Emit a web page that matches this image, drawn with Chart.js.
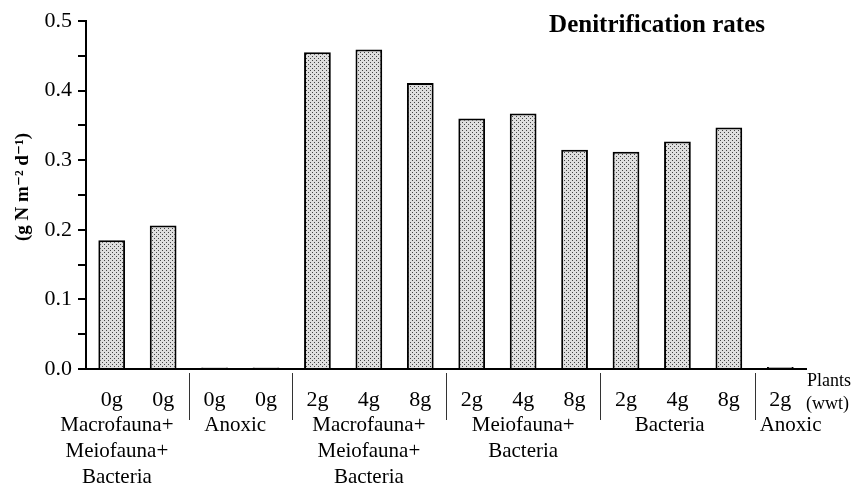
<!DOCTYPE html>
<html>
<head>
<meta charset="utf-8">
<script src="https://cdn.jsdelivr.net/npm/chart.js@4.4.0/dist/chart.umd.min.js"></script>
<style>
  body { margin: 0; background: #fff; }
</style>
</head>
<body>
<canvas id="denitChart" width="854" height="488"></canvas>
<script>
// data
var plantLabels = ['0g', '0g', '0g', '0g', '2g', '4g', '8g', '2g', '4g', '8g', '2g', '4g', '8g', '2g'];
var rates = [0.185, 0.206, 0.002, 0.002, 0.455, 0.459, 0.411, 0.360, 0.367, 0.315, 0.312, 0.327, 0.347, 0.003];
var groupNames = [
  ['Macrofauna+', 'Meiofauna+', 'Bacteria'],
  ['Anoxic'],
  ['Macrofauna+', 'Meiofauna+', 'Bacteria'],
  ['Meiofauna+', 'Bacteria'],
  ['Bacteria'],
  ['Anoxic']
];
var groupStart = [0, 2, 4, 7, 10, 13];
var groupEnd = [1, 3, 6, 9, 12, 13];
// where each group caption sits, as a category index
var groupAnchor = [0.1, 2.4, 5, 8, 10.85, 13.2];

var serif = '"Liberation Serif", "DejaVu Serif", serif';

// stipple fill
function makeStipple() {
  var c = document.createElement('canvas');
  c.width = 4; c.height = 4;
  var g = c.getContext('2d');
  g.fillStyle = '#dedede';
  g.fillRect(0, 0, 4, 4);
  g.fillStyle = '#444';
  g.fillRect(0, 0, 1, 1);
  g.fillRect(2, 2, 1, 1);
  return g.createPattern(c, 'repeat');
}

var extras = {
  id: 'extras',
  afterDraw: function(chart) {
    var ctx = chart.ctx;
    var x = chart.scales.x;
    var y0 = chart.chartArea.bottom;
    ctx.save();

    // group separators
    ctx.strokeStyle = '#333';
    ctx.lineWidth = 1;
    for (var i = 0; i < groupEnd.length - 1; i++) {
      var sx = Math.round((x.getPixelForValue(groupEnd[i]) + x.getPixelForValue(groupStart[i + 1])) / 2) + 0.5;
      ctx.beginPath();
      ctx.moveTo(sx, y0 + 4);
      ctx.lineTo(sx, y0 + 51);
      ctx.stroke();
    }

    // group captions
    ctx.fillStyle = '#000';
    ctx.font = '21px ' + serif;
    ctx.textAlign = 'center';
    ctx.textBaseline = 'middle';
    groupNames.forEach(function(lines, gi) {
      var a = groupAnchor[gi];
      var base = Math.floor(a);
      var px = x.getPixelForValue(base) + (a - base) * (x.getPixelForValue(1) - x.getPixelForValue(0));
      lines.forEach(function(t, li) {
        ctx.fillText(t, px, y0 + 56 + li * 26);
      });
    });

    // Plants (wwt)
    ctx.font = '18px ' + serif;
    ctx.textAlign = 'left';
    ctx.fillText('Plants', 807, y0 + 12);
    ctx.fillText('(wwt)', 806, y0 + 35);

    // title
    ctx.font = 'bold 25px ' + serif;
    ctx.textAlign = 'right';
    ctx.fillText('Denitrification rates', 765, 26);

    // y title
    ctx.translate(23, 187);
    ctx.rotate(-Math.PI / 2);
    ctx.font = 'bold 19px ' + serif;
    ctx.textAlign = 'center';
    ctx.fillText('(g N m\u207B\u00B2 d\u207B\u00B9)', 0, 0);
    ctx.restore();
  }
};

var chartArea = document.getElementById('denitChart').getContext('2d');
var myChart = new Chart(chartArea, {
  type: 'bar',
  data: {
    labels: plantLabels,
    datasets: [{
      data: rates,
      backgroundColor: makeStipple(),
      borderColor: '#000',
      borderWidth: 2,
      barPercentage: 0.52,
      categoryPercentage: 1
    }]
  },
  options: {
    responsive: false,
    animation: false,
    layout: { padding: { top: 21, right: 48, left: 0, bottom: 0 } },
    plugins: {
      legend: { display: false },
      tooltip: { enabled: false }
    },
    scales: {
      x: {
        offset: true,
        grid: { display: false },
        border: { display: true, color: '#000', width: 2 },
        ticks: {
          color: '#000',
          font: { family: serif, size: 22 },
          padding: 10,
          maxRotation: 0,
          autoSkip: false
        },
        afterFit: function(s) { s.height = 119; }
      },
      y: {
        min: 0,
        max: 0.5,
        grid: { drawOnChartArea: false, drawTicks: true, tickLength: 8, color: '#000', lineWidth: 2 },
        border: { display: true, color: '#000', width: 2 },
        ticks: {
          stepSize: 0.05,
          color: '#000',
          font: { family: serif, size: 22 },
          padding: 6,
          callback: function(v, i) { return i % 2 === 0 ? v.toFixed(1) : ''; }
        },
        afterFit: function(s) { s.width = 86; }
      }
    }
  },
  plugins: [extras]
});
</script>
</body>
</html>
